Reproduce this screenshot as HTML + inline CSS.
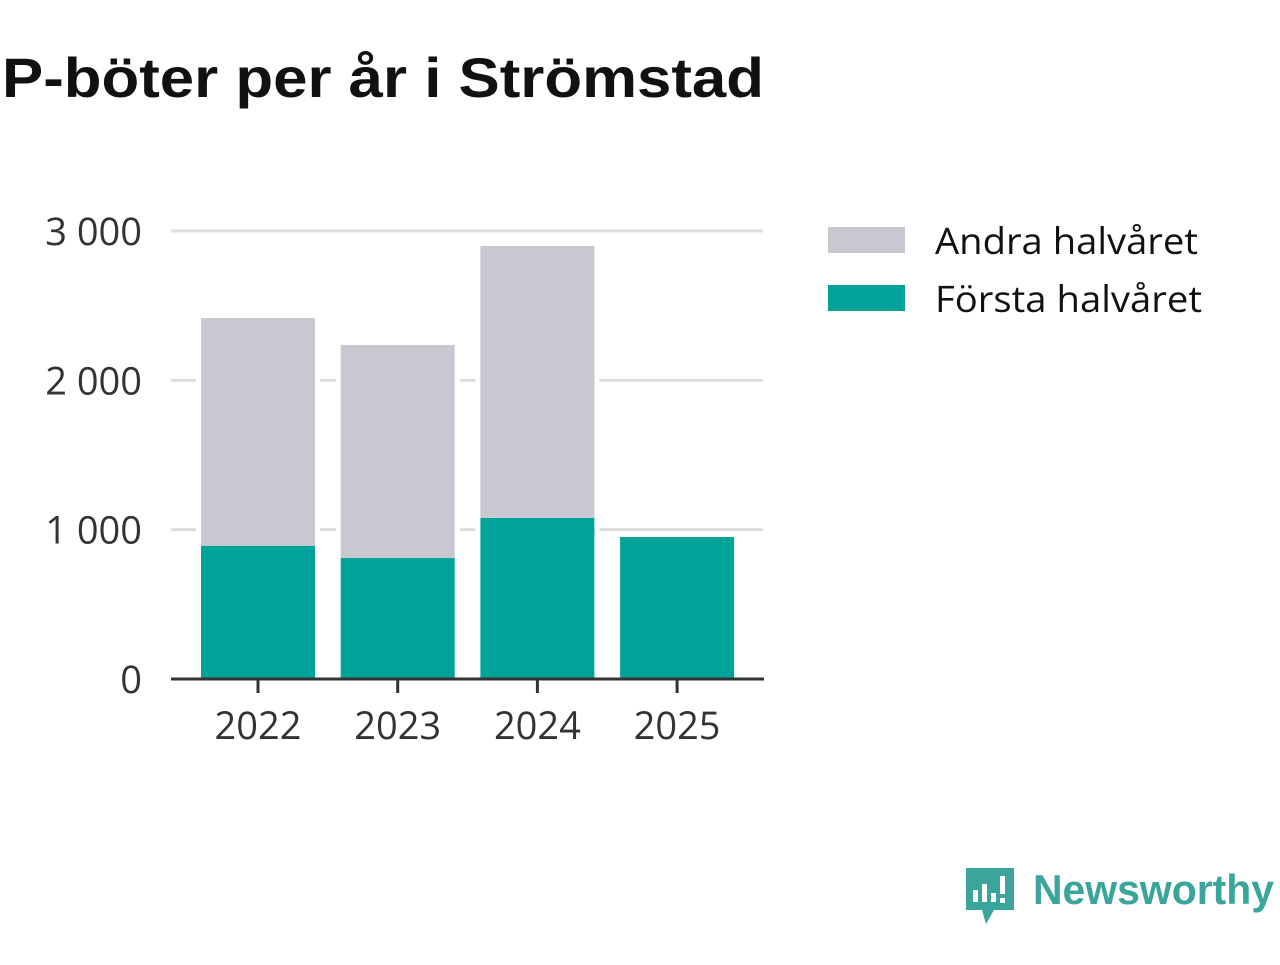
<!DOCTYPE html>
<html><head><meta charset="utf-8"><style>
body{margin:0;width:1280px;height:960px;background:#fff;overflow:hidden;font-family:"Open Sans","Liberation Sans",sans-serif}
</style></head><body>
<svg width="1280" height="960">
<text x="2" y="97" font-size="56" font-weight="bold" fill="#111" textLength="762" lengthAdjust="spacingAndGlyphs" font-family="Liberation Sans, sans-serif">P-böter per år i Strömstad</text>
<g id="grid"></g><g id="bars"></g><g id="axes"></g>
<g>
<rect x="828" y="227" width="77" height="26" fill="#c8c8d0"/>
<text x="935" y="254" font-size="37" fill="#111" textLength="263" lengthAdjust="spacingAndGlyphs">Andra halvåret</text>
<rect x="828" y="285" width="77" height="26" fill="#00a39a"/>
<text x="935" y="312" font-size="37" fill="#111" textLength="267" lengthAdjust="spacingAndGlyphs">Första halvåret</text>
</g>
<g>
<path d="M966 868 h48 v42 h-20 l-8 14 l-4 -14 h-16 z" fill="#3aa59a"/>
<rect x="973" y="890" width="5" height="12" fill="#fff"/><rect x="982" y="884" width="5" height="18" fill="#fff"/><rect x="991" y="893" width="5" height="9" fill="#fff"/><rect x="1000" y="876" width="5" height="18" fill="#fff"/><rect x="1000" y="898" width="5" height="5" fill="#fff"/>
<text x="1033" y="904" font-size="42" font-weight="bold" fill="#3aa59a" textLength="241" lengthAdjust="spacingAndGlyphs" font-family="Liberation Sans, sans-serif">Newsworthy</text>
</g>
</svg>
<script>
const categories=["2022","2023","2024","2025"];
const forsta=[891,810,1078,951];
const andra=[1526,1427,1822,0];
const ticks=[0,1000,2000,3000];
const tickLabels=["0","1 000","2 000","3 000"];
const NS="http://www.w3.org/2000/svg";
const y=v=>679-v*448/3000, x=i=>258+i*139.7, bw=114;
function mk(t,a,p){const e=document.createElementNS(NS,t);for(const k in a)e.setAttribute(k,a[k]);document.getElementById(p).appendChild(e);return e;}
ticks.forEach((t,i)=>{
 if(t>0){const l=mk('line',{x1:171,x2:763,y1:y(t),y2:y(t),stroke:'#ddd','stroke-width':3},'grid');
 
 }
 const tx=mk('text',{x:142,y:y(t)+14,'text-anchor':'end','font-size':38,fill:'#333'},'axes');tx.textContent=tickLabels[i];
 
 
});
categories.forEach((c,i)=>{
 const tot=forsta[i]+andra[i];
 const bg=mk('rect',{x:x(i)-bw/2-5,y:y(tot)-5,width:bw+10,height:y(0)-y(tot)+5,fill:'#fff'},'bars');
 
 
 if(andra[i]>0){const a=mk('rect',{x:x(i)-bw/2,y:y(tot),width:bw,height:y(forsta[i])-y(tot),fill:'#c8c8d0'},'bars');
 
 }
 const f=mk('rect',{x:x(i)-bw/2,y:y(forsta[i]),width:bw,height:y(0)-y(forsta[i]),fill:'#00a39a'},'bars');
 
 
 const tk=mk('line',{x1:x(i),x2:x(i),y1:679,y2:693,stroke:'#333','stroke-width':3},'axes');
 
 
 const t=mk('text',{x:x(i),y:739,'text-anchor':'middle','font-size':38,fill:'#333'},'axes');t.textContent=c;
 
 
});
const ax=mk('line',{x1:171,x2:764,y1:679,y2:679,stroke:'#333','stroke-width':3},'axes');


</script>
</body></html>
